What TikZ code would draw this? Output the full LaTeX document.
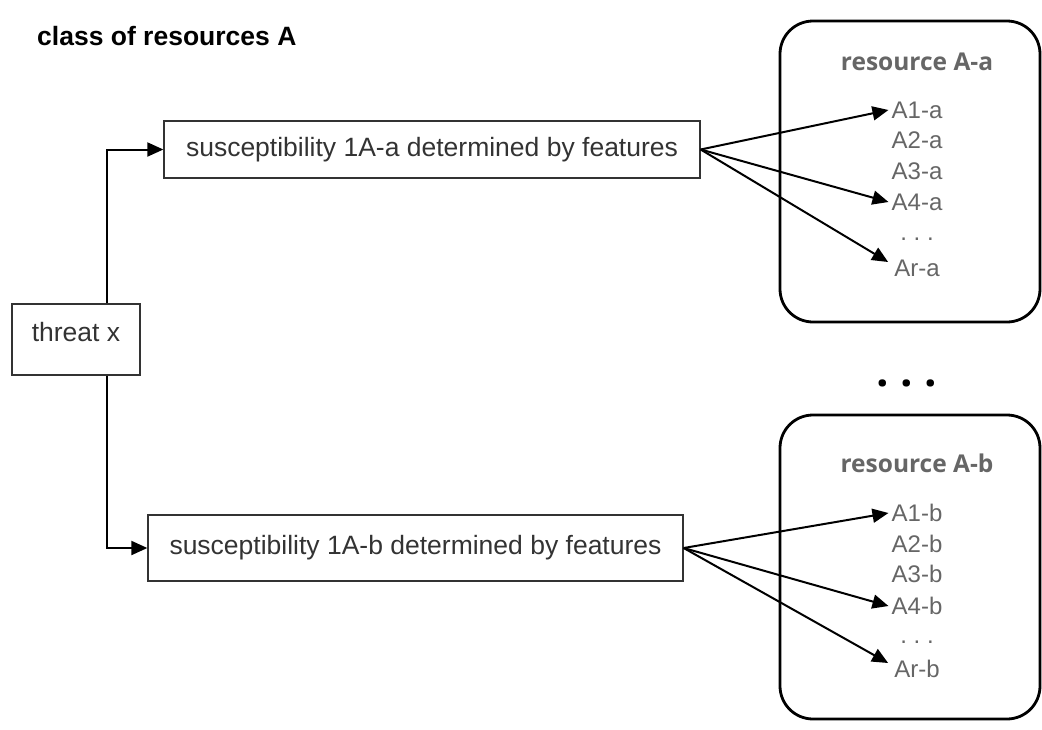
\documentclass[tikz,border=0pt]{standalone}
\usepackage{fontspec}
\setmainfont{Liberation Sans}
\newfontfamily\osans{Open Sans}
\usetikzlibrary{arrows.meta}
\definecolor{txtdark}{HTML}{333333}
\definecolor{txtgray}{HTML}{666666}
\begin{document}
\frenchspacing
\begin{tikzpicture}[x=1pt,y=-1pt,
  box/.style={draw=txtdark, line width=1.3pt, inner sep=0pt,
    font=\fontsize{26.5}{30}\selectfont, text=txtdark},
  resbox/.style={draw=black, line width=2.8pt, rounded corners=33pt, inner sep=0pt},
  item/.style={font=\fontsize{24}{28}\selectfont, text=txtgray, inner sep=3pt},
  rtitle/.style={font=\osans\bfseries\fontsize{24.5}{28}\selectfont, text=txtgray, inner sep=0pt},
  conn/.style={line width=2pt, -{Triangle[length=16pt,width=14pt]}}]
\path[use as bounding box] (0,0) rectangle (1042,729);

% title
\node[anchor=base west, inner sep=0pt, font=\bfseries\fontsize{26.5}{30}\selectfont] (title) at (37,45.5) {class of resources A};

% threat and susceptibility boxes
\node[box, minimum width=128pt, minimum height=71pt, text depth=15pt] (threat) at (76,339.5) {threat x};
\node[box, minimum width=536pt, minimum height=57pt] (sus1) at (432,149.5) {susceptibility 1A-a determined by features};
\node[box, minimum width=535pt, minimum height=66pt] (sus2) at (415.5,548) {susceptibility 1A-b determined by features};

% resource boxes
\node[resbox, minimum width=260pt, minimum height=301pt] (resA) at (910,171.5) {};
\node[resbox, minimum width=260pt, minimum height=304pt] (resB) at (910,567) {};

\node[rtitle] (tA) at (917,62) {resource A-a};
\node[item] (a1) at (917,110) {A1-a};
\node[item] (a2) at (917,140.5) {A2-a};
\node[item] (a3) at (917,171) {A3-a};
\node[item] (a4) at (917,202) {A4-a};
\node[item] (adots) at (917,239) {. . .};
\node[item] (ar) at (917,268) {Ar-a};

\node[rtitle] (tB) at (917,463) {resource A-b};
\node[item] (b1) at (917,513) {A1-b};
\node[item] (b2) at (917,543.5) {A2-b};
\node[item] (b3) at (917,574) {A3-b};
\node[item] (b4) at (917,606) {A4-b};
\node[item] (bdots) at (917,642) {. . .};
\node[item] (br) at (917,669) {Ar-b};

% dots between the resource boxes
\node[inner sep=0pt, font=\osans\bfseries\fontsize{44}{48}\selectfont] (between) at (907,383) {. . .};

% connectors from threat
\draw[conn] ([xshift=31pt]threat.north) |- (sus1.west);
\draw[conn] ([xshift=31pt]threat.south) |- (sus2.west);

% connectors to resources
\draw[conn] (sus1.east) -- (a1.west);
\draw[conn] (sus1.east) -- (a4.west);
\draw[conn] (sus1.east) -- ([xshift=-3pt,yshift=6pt]ar.west);
\draw[conn] (sus2.east) -- (b1.west);
\draw[conn] (sus2.east) -- (b4.west);
\draw[conn] (sus2.east) -- ([xshift=-3pt,yshift=6pt]br.west);
\end{tikzpicture}
\end{document}
